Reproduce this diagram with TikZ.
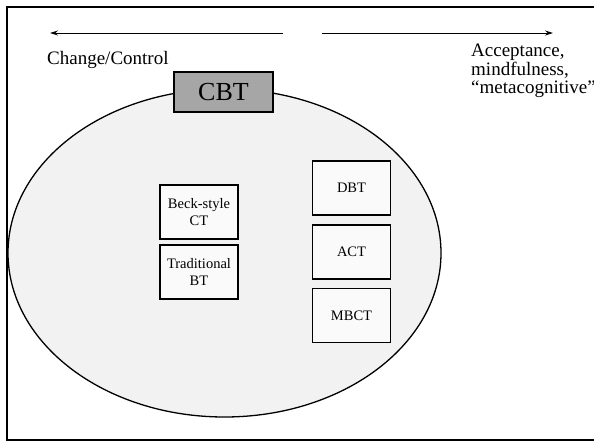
\documentclass[tikz,border=0pt]{standalone}
\usepackage{fontspec}
\setmainfont{Liberation Serif}
\newfontfamily\tnr[Ligatures=TeX]{Liberation Serif}
\usetikzlibrary{arrows.meta,shapes.geometric}
\begin{document}
\begin{tikzpicture}[x=1pt,y=-1pt,
  tbox/.style={draw=black,line width=1.3pt,fill=white!98!black,minimum width=78pt,minimum height=54pt,align=center,font=\tnr\fontsize{14.5}{16.5}\selectfont,inner sep=1pt},
  lbl/.style={font=\tnr\fontsize{19}{20}\selectfont,inner sep=0pt},
  arr/.style={line width=1pt,-{Stealth[length=8pt,width=5pt]}}]
\useasboundingbox (0,0) rectangle (594,445);
\fill[white] (0,0) rectangle (594,445);
\draw[line width=2pt] (7,7) rectangle (620,440);
\node[draw=black,line width=1.3pt,ellipse,minimum width=433pt,minimum height=328pt,inner sep=0pt,fill=black!5] (ell) at (224.5,253) {};
\node[draw=black,line width=1.3pt,fill=black!35,minimum width=99pt,minimum height=40pt,inner sep=0pt,font=\tnr\fontsize{26}{26}\selectfont] (cbt) at (223.5,92) {CBT};
\coordinate (la) at (283,33);
\coordinate (lb) at (50,33);
\coordinate (ra) at (322,33);
\coordinate (rb) at (553,33);
\draw[arr] (la) -- (lb);
\draw[arr] (ra) -- (rb);
\node[lbl,anchor=base west] (cc) at (47,64) {Change/Control};
\node[lbl,anchor=base west] (acc1) at (471,56) {Acceptance,};
\node[lbl,anchor=base west] (acc2) at (471,75) {mindfulness,};
\node[lbl,anchor=base west] (acc3) at (471,93.5) {“metacognitive”};
\node[tbox] (beck) at (199,212) {Beck-style\\CT};
\node[tbox] (trad) at (199,272) {Traditional\\BT};
\node[tbox] (dbt) at (351.5,188) {DBT};
\node[tbox] (act) at (351.5,252) {ACT};
\node[tbox] (mbct) at (351.5,315.5) {MBCT};
\end{tikzpicture}
\end{document}
